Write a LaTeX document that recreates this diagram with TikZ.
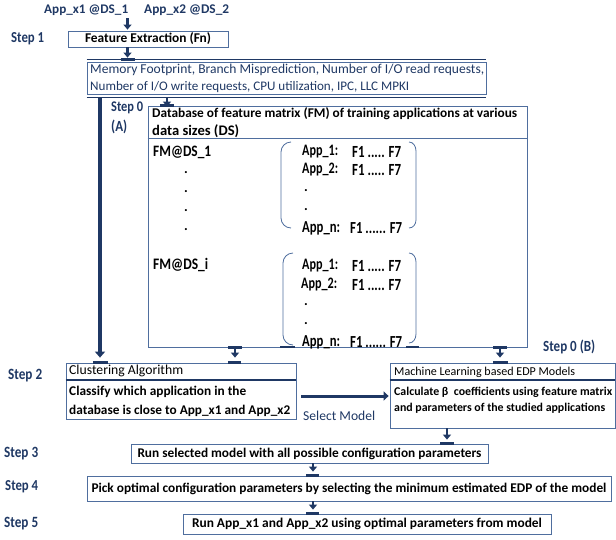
\documentclass[tikz,border=0pt]{standalone}
\usepackage{fontspec}
\setmainfont{Carlito}
\newfontfamily\cond{Carlito}[FakeStretch=0.84]
\newfontfamily\condb{Carlito}[FakeStretch=0.76]
\usetikzlibrary{arrows.meta,calc}
\definecolor{navy}{HTML}{1F3864}
\definecolor{boxc}{HTML}{4F6E9E}
\newlength\fwtmp
\newcommand\fitw[3]{\settowidth\fwtmp{#2\fontsize{10}{12}\selectfont #3}\pgfmathsetmacro\fsz{10*#1/\fwtmp}#2\fontsize{\fsz}{\fsz}\selectfont #3}
\tikzset{
  box/.style={draw=boxc,line width=0.8pt,inner sep=0pt,rectangle},
  arr/.style={draw=navy,line width=2.5pt,-{Triangle[width=8pt,length=5pt]}},
  bigarr/.style={draw=navy,line width=4pt,-{Triangle[width=10pt,length=6pt]}},
  tee/.style={draw=navy,line width=2.5pt},
  sep/.style={draw=navy,line width=1.6pt},
  steplbl/.style={text=navy,anchor=west,inner sep=0pt},
  txt/.style={anchor=west,inner sep=0pt},
  dot/.style={anchor=west,inner sep=0pt,font=\bfseries\fontsize{14}{14}\selectfont},
  paren/.style={draw=boxc,line width=0.8pt}
}
\begin{document}
\begin{tikzpicture}[x=1pt,y=-1pt]
\useasboundingbox (0,0) rectangle (616,539);
% x positions of connectors
\coordinate (xa) at (127.5,0);
\coordinate (xb) at (167,0);
\coordinate (xc) at (100,0);
\coordinate (xd) at (235,0);
\coordinate (xe) at (500,0);
\coordinate (xf) at (447,0);
\coordinate (xg) at (313,0);
\coordinate (yin) at (0,18);
\coordinate (ysm) at (0,396);

% inputs
\node[text=navy,txt] (in1) at (44,10) {\fitw{84}{\bfseries}{App\_x1 @DS\_1}};
\node[text=navy,txt] (in2) at (144,10) {\fitw{85}{\bfseries}{App\_x2 @DS\_2}};

% step labels
\node[steplbl] (st1) at (11,39) {\fitw{33}{\cond\bfseries}{Step 1}};
\node[steplbl] (st0a) at (111,108) {\fitw{32}{\cond\bfseries}{Step 0}};
\node[steplbl] (st0aa) at (111,127) {\fitw{16}{\cond\bfseries}{(A)}};
\node[steplbl] (st2) at (8,376) {\fitw{34}{\cond\bfseries}{Step 2}};
\node[steplbl] (st0b) at (543,347) {\fitw{52}{\cond\bfseries}{Step 0 (B)}};
\node[steplbl] (st3) at (4,454) {\fitw{34}{\cond\bfseries}{Step 3}};
\node[steplbl] (st4) at (5,487) {\fitw{33}{\cond\bfseries}{Step 4}};
\node[steplbl] (st5) at (4,524) {\fitw{34}{\cond\bfseries}{Step 5}};

% boxes
\node[box,minimum width=160pt,minimum height=16pt] (fe) at (148,39) {\fitw{126}{\bfseries}{Feature Extraction (Fn)}};
\node[box,minimum width=399pt,minimum height=32pt] (mem) at (286.5,78) {};
\node[box,minimum width=379pt,minimum height=241pt] (db) at (337.5,226.5) {};
\node[box,minimum width=230pt,minimum height=56pt] (clu) at (181,391) {};
\node[box,minimum width=225pt,minimum height=65pt] (ml) at (502.5,395.5) {};
\node[box,minimum width=357pt,minimum height=19pt] (s3) at (309.5,453.5) {\fitw{344}{\bfseries}{Run selected model with all possible configuration parameters}};
\node[box,minimum width=524pt,minimum height=25pt] (s4) at (349,488.5) {\fitw{515}{\bfseries}{Pick optimal configuration parameters by selecting the minimum estimated EDP of the model}};
\node[box,minimum width=368pt,minimum height=20pt] (s5) at (367,524) {\fitw{350}{\bfseries}{Run App\_x1 and App\_x2 using optimal parameters from model}};

% memory box decorations and text
\draw[sep] ($(mem.north west)+(0,-2)$) -- ($(mem.north east)+(0,-2)$);
\draw[sep] ($(mem.south west)+(0,3)$) -- ($(mem.south east)+(0,3)$);
\node[txt,text=navy] (m1) at (90,70) {\fitw{394}{}{Memory Footprint, Branch Misprediction, Number of I/O read requests,}};
\node[txt,text=navy] (m2) at (90,87) {\fitw{319}{}{Number of I/O write requests, CPU utilization, IPC, LLC MPKI}};

% database box
\draw[draw=boxc,line width=0.8pt] (db.west |- 0,138) -- (db.east |- 0,138);
\node[txt] (d1) at (152,114) {\fitw{365}{\bfseries}{Database of feature matrix (FM) of training applications at various}};
\node[txt] (d2) at (152,131) {\fitw{87}{\bfseries}{data sizes (DS)}};
\node[txt] (fm1) at (153,152) {\fitw{58}{\cond\bfseries}{FM@DS\_1}};
\foreach \yy [count=\i] in {173,192,211,230} \node[dot] (dA\i) at (184,\yy) {.};
\node[txt] (fmi) at (153,265) {\fitw{55}{\cond\bfseries}{FM@DS\_i}};
% group 1
\node[txt] (g1a) at (302,152) {\fitw{36}{\condb\bfseries}{App\_1:}};
\node[txt] (g1af) at (352,152) {\fitw{49}{\condb\bfseries}{F1 ..... F7}};
\node[txt] (g1b) at (302,170) {\fitw{36}{\condb\bfseries}{App\_2:}};
\node[txt] (g1bf) at (352,170) {\fitw{49}{\condb\bfseries}{F1 ..... F7}};
\node[dot] (g1c) at (304,191) {.};
\node[dot] (g1d) at (304,210) {.};
\node[txt] (g1n) at (302,228) {\fitw{38}{\condb\bfseries}{App\_n:}};
\node[txt] (g1nf) at (350,228) {\fitw{52}{\condb\bfseries}{F1 ...... F7}};
\draw[paren] (291,142) to[out=180,in=90] (281,152) -- (281,218) to[out=-90,in=180] (291,228);
\draw[paren] (409,142) to[out=0,in=90] (416,151) -- (416,220) to[out=-90,in=0] (409,228);
% group 2
\node[txt] (g2a) at (302,266) {\fitw{36}{\condb\bfseries}{App\_1:}};
\node[txt] (g2af) at (352,266) {\fitw{49}{\condb\bfseries}{F1 ..... F7}};
\node[txt] (g2b) at (301,285) {\fitw{36}{\condb\bfseries}{App\_2:}};
\node[txt] (g2bf) at (352,285) {\fitw{49}{\condb\bfseries}{F1 ..... F7}};
\node[dot] (g2c) at (304,305) {.};
\node[dot] (g2d) at (304,324) {.};
\node[txt] (g2n) at (302,342) {\fitw{38}{\condb\bfseries}{App\_n:}};
\node[txt] (g2nf) at (350,342) {\fitw{52}{\condb\bfseries}{F1 ...... F7}};
\draw[paren] (293,253) to[out=180,in=90] (283,263) -- (283,335) to[out=-90,in=180] (293,345);
\draw[paren] (409,253) to[out=0,in=90] (416,262) -- (416,334) to[out=-90,in=0] (409,343);

% clustering box
\draw[sep] (clu.west |- 0,380) -- (clu.east |- 0,380);
\node[txt] (c1) at (69,371) {\fitw{114}{}{Clustering Algorithm}};
\node[txt] (c2) at (69,392) {\fitw{177}{\bfseries}{Classify which application in the}};
\node[txt] (c3) at (69,411) {\fitw{221}{\bfseries}{database is close to App\_x1 and App\_x2}};

% ML box
\draw[sep] (ml.west |- 0,380) -- (ml.east |- 0,380);
\node[txt] (l1) at (394,372) {\fitw{181}{}{Machine Learning based EDP Models}};
\node[txt] (l2) at (394,392) {\fitw{218}{\bfseries}{Calculate β\ \ coefficients using feature matrix}};
\node[txt] (l3) at (394,408) {\fitw{211}{\bfseries}{and parameters of the studied applications}};

% select model
\node[txt,text=navy] (selm) at (303,416) {\fitw{72}{}{Select Model}};

% connectors
\draw[arr] (xa |- yin) -- ($(fe.north -| xa)+(0,-1)$);
\draw[arr] (fe.south -| xa) -- ($(mem.north -| xa)+(0,-4)$);
\draw[tee] ($(mem.north -| xa)+(-7,-2)$) -- ($(mem.north -| xa)+(7,-2)$);
\draw[arr] ($(mem.south -| xb)+(0,3)$) -- ($(db.north -| xb)+(0,1)$);
\draw[tee] ($(db.north -| xb)+(-7,0)$) -- ($(db.north -| xb)+(7,0)$);
\draw[bigarr] ($(mem.south -| xc)+(0,3)$) -- ($(clu.north -| xc)+(0,-5)$);
\draw[tee] ($(clu.north -| xc)+(-7,0)$) -- ($(clu.north -| xc)+(8,0)$);
\draw[tee] ($(db.south -| xd)+(-7,0)$) -- ($(db.south -| xd)+(7,0)$);
\draw[arr] (db.south -| xd) -- ($(clu.north -| xd)+(0,-5)$);
\draw[tee] ($(clu.north -| xd)+(-7,0)$) -- ($(clu.north -| xd)+(6,0)$);
\draw[tee] (280,347) -- (295,347);
\draw[tee] (406,347) -- (419,347);
\draw[tee] ($(db.south -| xe)+(-7,0)$) -- ($(db.south -| xe)+(7,0)$);
\draw[arr] (db.south -| xe) -- ($(ml.north -| xe)+(0,-5)$);
\draw[tee] ($(ml.north -| xe)+(-7,0)$) -- ($(ml.north -| xe)+(8,0)$);
\draw[draw=navy,line width=3pt,-{Triangle[width=9pt,length=5pt]}] ($(clu.east |- ysm)+(5,0)$) -- ($(ml.west |- ysm)+(-1,0)$);
\draw[arr] (ml.south -| xf) -- ($(s3.north -| xf)+(0,-4)$);
\draw[tee] ($(s3.north -| xf)+(-7,0)$) -- ($(s3.north -| xf)+(7,0)$);
\draw[arr] (s3.south -| xg) -- ($(s4.north -| xg)+(0,-4)$);
\draw[tee] ($(s4.north -| xg)+(-7,0)$) -- ($(s4.north -| xg)+(6,0)$);
\draw[arr] (s4.south -| xg) -- ($(s5.north -| xg)+(0,-4)$);
\draw[tee] ($(s5.north -| xg)+(-7,0)$) -- ($(s5.north -| xg)+(6,0)$);
\end{tikzpicture}
\end{document}
